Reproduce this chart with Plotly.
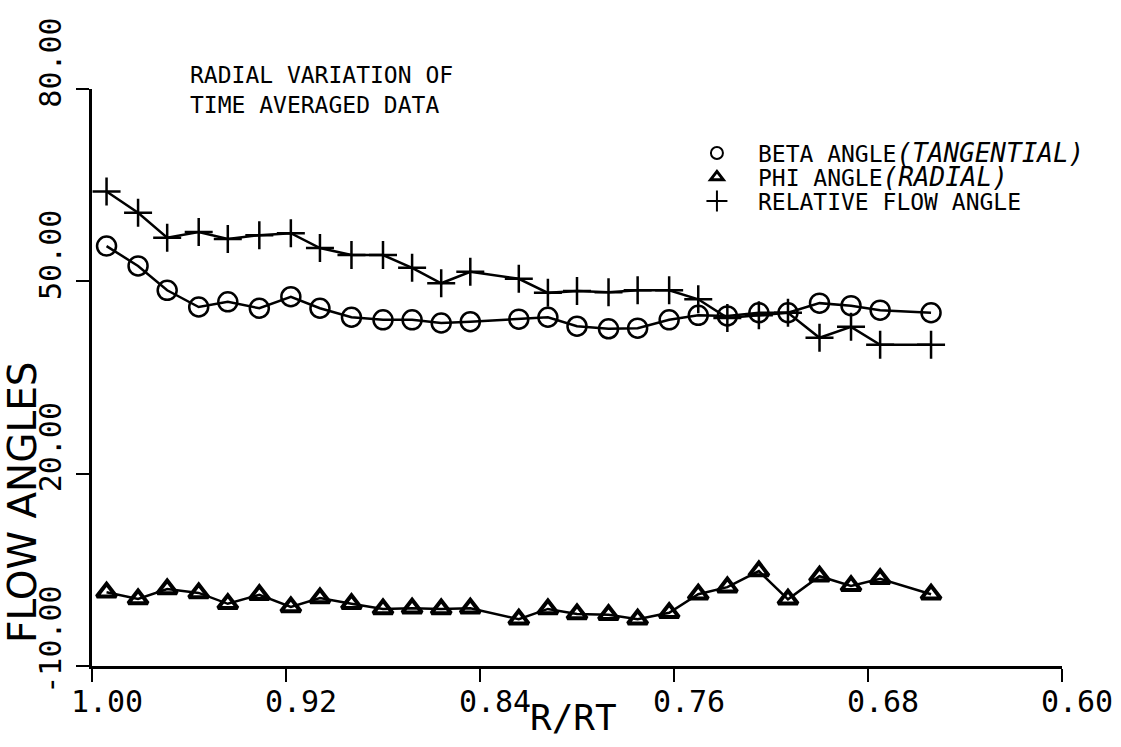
import plotly.graph_objects as go

# ---- data ----
r_rt = [0.994, 0.981, 0.969, 0.956, 0.944, 0.931, 0.918, 0.906, 0.893, 0.880,
        0.868, 0.856, 0.844, 0.824, 0.812, 0.800, 0.787, 0.775, 0.762, 0.750,
        0.738, 0.725, 0.713, 0.700, 0.687, 0.675, 0.654]

beta_angle = [55.5, 52.4, 48.6, 46.0, 46.8, 45.8, 47.6, 45.8, 44.4, 44.0,
              44.0, 43.5, 43.7, 44.1, 44.4, 43.0, 42.6, 42.7, 44.0, 44.7,
              44.6, 45.1, 45.1, 46.6, 46.2, 45.5, 45.1]

phi_angle = [1.5, 0.45, 2.0, 1.4, -0.3, 1.1, -0.8, 0.6, -0.3, -1.1,
             -1.0, -1.1, -1.0, -2.7, -1.1, -1.9, -2.0, -2.7, -1.7, 1.2,
             2.3, 4.8, 0.4, 4.0, 2.5, 3.6, 1.2]

relative_flow = [64.0, 60.7, 56.8, 57.7, 56.6, 57.2, 57.5, 55.2, 54.1, 54.1,
                 52.1, 49.7, 51.5, 50.4, 48.2, 48.5, 48.3, 48.6, 48.6, 47.2,
                 44.3, 44.7, 45.1, 41.2, 42.9, 40.1, 40.1]

x_tickvals = [1.00, 0.92, 0.84, 0.76, 0.68, 0.60]
x_ticktext = ["1.00", "0.92", "0.84", "0.76", "0.68", "0.60"]
y_tickvals = [-10, 20, 50, 80]
y_ticktext = ["-10.00", "20.00", "50.00", "80.00"]

legend_names = ["BETA ANGLE<span style='font-size:26px'><i>(TANGENTIAL)</i></span>",
                "PHI ANGLE<span style='font-size:26px'><i>(RADIAL)</i></span>",
                "RELATIVE FLOW ANGLE"]

MONO = "DejaVu Sans Mono"
BLACK = "#000000"

fig = go.Figure()

# data traces
fig.add_trace(go.Scatter(
    x=r_rt, y=beta_angle, mode="lines+markers", showlegend=False,
    line=dict(color=BLACK, width=2.5),
    marker=dict(symbol="circle-open", size=19, color=BLACK, line=dict(color=BLACK, width=2.5))))
fig.add_trace(go.Scatter(
    x=r_rt, y=phi_angle, mode="lines+markers", showlegend=False,
    line=dict(color=BLACK, width=2.5),
    marker=dict(symbol="triangle-up-open", size=17, color=BLACK, line=dict(color=BLACK, width=4))))
fig.add_trace(go.Scatter(
    x=r_rt, y=relative_flow, mode="lines+markers", showlegend=False,
    line=dict(color=BLACK, width=2.5),
    marker=dict(symbol="cross-thin-open", size=20, color=BLACK, line=dict(color=BLACK, width=2.5))))

# legend-only entries, one legend box per entry for exact row spacing
fig.add_trace(go.Scatter(x=[None], y=[None], mode="markers", name=legend_names[0], legend="legend",
    marker=dict(symbol="circle-open", size=12, color=BLACK, line=dict(color=BLACK, width=2))))
fig.add_trace(go.Scatter(x=[None], y=[None], mode="markers", name=legend_names[1], legend="legend2",
    marker=dict(symbol="triangle-up-open", size=11, color=BLACK, line=dict(color=BLACK, width=3))))
fig.add_trace(go.Scatter(x=[None], y=[None], mode="markers", name=legend_names[2], legend="legend3",
    marker=dict(symbol="cross-thin-open", size=15, color=BLACK, line=dict(color=BLACK, width=2))))

leg_common = dict(x=0.602, xanchor="left", yanchor="middle",
                  font=dict(family=MONO, size=23, color=BLACK),
                  bgcolor="rgba(0,0,0,0)", borderwidth=0, itemwidth=72,
                  itemsizing="trace")

fig.update_layout(
    width=1121, height=747,
    margin=dict(l=92, r=59, t=89, b=81, autoexpand=False),
    paper_bgcolor="white", plot_bgcolor="white",
    font=dict(family=MONO, color=BLACK),
    showlegend=True,
    legend=dict(y=0.889, **leg_common),
    legend2=dict(y=0.8475, **leg_common),
    legend3=dict(y=0.8059, **leg_common),
    xaxis=dict(range=[1.0, 0.6], tickvals=x_tickvals, ticktext=x_ticktext,
               showline=True, linecolor=BLACK, linewidth=2.5, mirror=False,
               ticks="outside", ticklen=13, tickwidth=2, tickcolor=BLACK,
               showgrid=False, zeroline=False,
               tickfont=dict(family=MONO, size=30, color=BLACK),
               ticklabelshift=-15, ticklabelstandoff=-6),
    yaxis=dict(range=[-10, 80], tickvals=y_tickvals, ticktext=y_ticktext,
               showline=True, linecolor=BLACK, linewidth=2.5, mirror=False,
               ticks="outside", ticklen=13, tickwidth=2, tickcolor=BLACK,
               showgrid=False, zeroline=False, tickangle=-90,
               tickfont=dict(family=MONO, size=30, color=BLACK),
               ticklabelshift=-22, ticklabelstandoff=3),
    annotations=[
        dict(text="RADIAL VARIATION OF<br>TIME AVERAGED DATA", xref="paper", yref="paper",
             x=0.099, y=1.051, xanchor="left", yanchor="top", align="left", showarrow=False,
             font=dict(family=MONO, size=23, color=BLACK)),
        dict(text="FLOW ANGLES", xref="paper", yref="y", x=-0.071, y=15.6,
             xanchor="center", yanchor="middle", textangle=-90, showarrow=False,
             font=dict(family="DejaVu Sans", size=39, color=BLACK)),
        dict(text="R/RT", xref="x", yref="paper", x=0.8015, y=-0.09,
             xanchor="center", yanchor="middle", showarrow=False,
             font=dict(family=MONO, size=36, color=BLACK)),
    ],
)

fig.write_html("out.html")
